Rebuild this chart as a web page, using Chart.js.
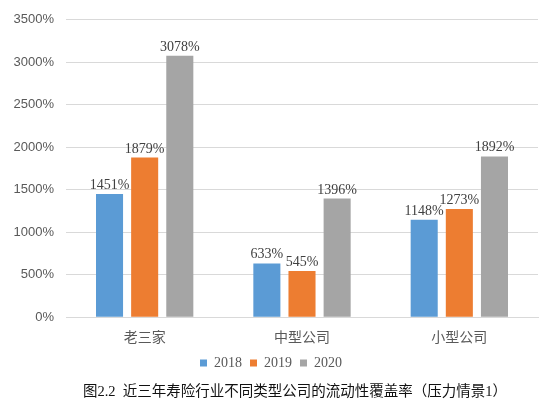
<!DOCTYPE html>
<html>
<head>
<meta charset="utf-8">
<script src="https://cdn.jsdelivr.net/npm/chart.js@4.4.1/dist/chart.umd.min.js"></script>
<style>
  html, body { margin: 0; padding: 0; background: #fff; }
  #wrap { width: 550px; height: 415px; position: relative; }
</style>
</head>
<body>
<div id="wrap"><canvas id="chart"></canvas></div>
<script>
const categories = ["老三家", "中型公司", "小型公司"];
const years = ["2018", "2019", "2020"];
const values2018 = [1451, 633, 1148];
const values2019 = [1879, 545, 1273];
const values2020 = [3078, 1396, 1892];
const colors = ["#5B9BD5", "#ED7D31", "#A5A5A5"];
const captionText = "图2.2  近三年寿险行业不同类型公司的流动性覆盖率（压力情景1）";

// labels above each bar
const barLabels = {
    id: "barLabels",
    afterDatasetsDraw(chart) {
        const ctx = chart.ctx;
        ctx.save();
        ctx.font = "14px 'Liberation Serif', 'DejaVu Serif', serif";
        ctx.fillStyle = "#404040";
        ctx.textAlign = "center";
        ctx.textBaseline = "alphabetic";
        chart.data.datasets.forEach((ds, i) => {
            chart.getDatasetMeta(i).data.forEach((bar, j) => {
                ctx.fillText(ds.data[j] + "%", bar.x, bar.y - 5);
            });
        });
        ctx.restore();
    }
};

// figure caption under the legend (slightly right of centre, as in the source)
const caption = {
    id: "caption",
    afterDraw(chart) {
        const ctx = chart.ctx;
        ctx.save();
        ctx.font = "14.5px 'Liberation Serif', 'Noto Sans CJK SC', serif";
        ctx.fillStyle = "#111";
        ctx.textAlign = "center";
        ctx.textBaseline = "middle";
        ctx.fillText(captionText, chart.width / 2 + 20, chart.height - 23);
        ctx.restore();
    }
};

const seriesValues = [values2018, values2019, values2020];

new Chart(document.getElementById("chart"), {
    type: "bar",
    data: {
        labels: categories,
        datasets: years.map((y, i) => ({
            label: y,
            data: seriesValues[i],
            backgroundColor: colors[i],
            barPercentage: 0.77,
            categoryPercentage: 0.67
        }))
    },
    options: {
        responsive: true,
        maintainAspectRatio: false,
        animation: false,
        layout: { padding: { left: 4, right: 12, top: 15, bottom: 35 } },
        scales: {
            x: {
                grid: { display: false },
                border: { color: "#D9D9D9" },
                ticks: {
                    color: "#595959",
                    font: { size: 14, family: "'Noto Sans CJK SC', sans-serif" },
                    padding: 3
                }
            },
            y: {
                min: 0,
                max: 3500,
                afterFit: s => { s.width = 62; },
                ticks: {
                    stepSize: 500,
                    color: "#595959",
                    font: { size: 13, family: "'Liberation Sans', 'DejaVu Sans', sans-serif" },
                    callback: v => v + "%",
                    padding: 12
                },
                grid: { color: "#D9D9D9", drawTicks: false },
                border: { display: false }
            }
        },
        plugins: {
            legend: {
                position: "bottom",
                labels: {
                    boxWidth: 7,
                    boxHeight: 7,
                    color: "#595959",
                    font: { size: 14, family: "'Liberation Serif', serif" },
                    padding: 8
                }
            },
            title: { display: false },
            tooltip: { enabled: false }
        }
    },
    plugins: [barLabels, caption]
});
</script>
</body>
</html>
